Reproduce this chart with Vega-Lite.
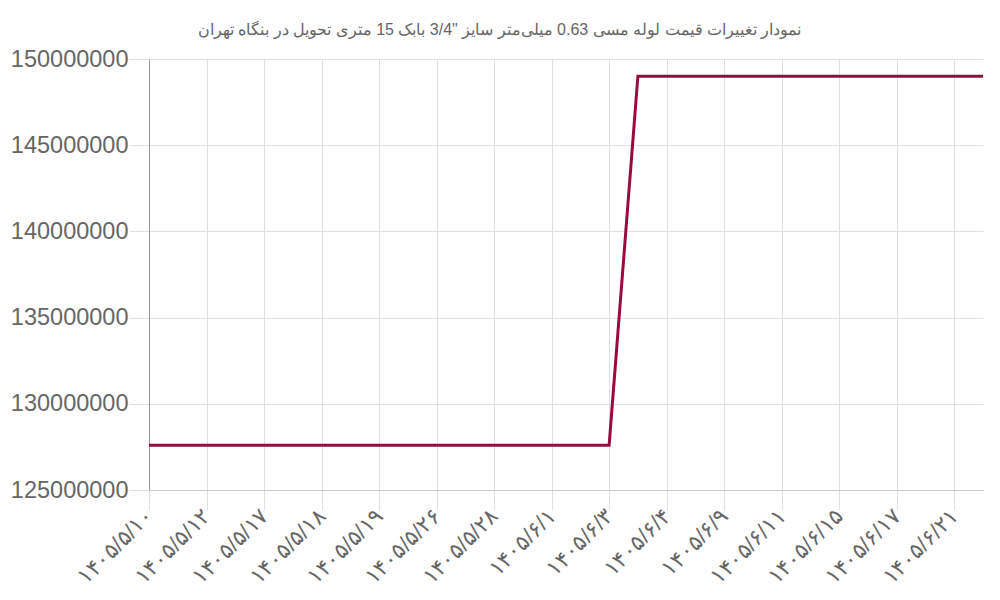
{
  "$schema": "https://vega.github.io/schema/vega-lite/v6.json",
  "description": "Copper pipe price changes, Tehran",
  "width": 834,
  "height": 431,
  "autosize": "none",
  "padding": {"left": 149, "top": 59, "right": 17, "bottom": 110},
  "config": {"font": "Liberation Sans", "view": {"stroke": null}},
  "datasets": {
    "prices": [
      {"n": 0, "date": "۱۴۰۵/۵/۱۰", "price": 127600000},
      {"n": 1, "date": "۱۴۰۵/۵/۱۱", "price": 127600000},
      {"n": 2, "date": "۱۴۰۵/۵/۱۲", "price": 127600000},
      {"n": 3, "date": "۱۴۰۵/۵/۱۴", "price": 127600000},
      {"n": 4, "date": "۱۴۰۵/۵/۱۷", "price": 127600000},
      {"n": 5, "date": "۱۴۰۵/۵/۱۷", "price": 127600000},
      {"n": 6, "date": "۱۴۰۵/۵/۱۸", "price": 127600000},
      {"n": 7, "date": "۱۴۰۵/۵/۱۸", "price": 127600000},
      {"n": 8, "date": "۱۴۰۵/۵/۱۹", "price": 127600000},
      {"n": 9, "date": "۱۴۰۵/۵/۲۲", "price": 127600000},
      {"n": 10, "date": "۱۴۰۵/۵/۲۶", "price": 127600000},
      {"n": 11, "date": "۱۴۰۵/۵/۲۷", "price": 127600000},
      {"n": 12, "date": "۱۴۰۵/۵/۲۸", "price": 127600000},
      {"n": 13, "date": "۱۴۰۵/۵/۳۱", "price": 127600000},
      {"n": 14, "date": "۱۴۰۵/۶/۱", "price": 127600000},
      {"n": 15, "date": "۱۴۰۵/۶/۲", "price": 127600000},
      {"n": 16, "date": "۱۴۰۵/۶/۳", "price": 127600000},
      {"n": 17, "date": "۱۴۰۵/۶/۳", "price": 149000000},
      {"n": 18, "date": "۱۴۰۵/۶/۴", "price": 149000000},
      {"n": 19, "date": "۱۴۰۵/۶/۸", "price": 149000000},
      {"n": 20, "date": "۱۴۰۵/۶/۹", "price": 149000000},
      {"n": 21, "date": "۱۴۰۵/۶/۱۰", "price": 149000000},
      {"n": 22, "date": "۱۴۰۵/۶/۱۱", "price": 149000000},
      {"n": 23, "date": "۱۴۰۵/۶/۱۴", "price": 149000000},
      {"n": 24, "date": "۱۴۰۵/۶/۱۵", "price": 149000000},
      {"n": 25, "date": "۱۴۰۵/۶/۱۶", "price": 149000000},
      {"n": 26, "date": "۱۴۰۵/۶/۱۷", "price": 149000000},
      {"n": 27, "date": "۱۴۰۵/۶/۲۰", "price": 149000000},
      {"n": 28, "date": "۱۴۰۵/۶/۲۱", "price": 149000000},
      {"n": 29, "date": "۱۴۰۵/۶/۲۲", "price": 149000000}
    ]
  },
  "data": {"name": "prices"},
  "title": {
    "text": "نمودار تغییرات قیمت لوله مسی 0.63 میلی\u200cمتر سایز \"3/4 بابک 15 متری تحویل در بنگاه تهران",
    "fontSize": 16,
    "fontWeight": "normal",
    "color": "#666666",
    "anchor": "middle",
    "frame": "bounds",
    "offset": 9
  },
  "mark": {"type": "line", "color": "#9b0a3f", "strokeWidth": 3},
  "encoding": {
    "x": {
      "field": "n",
      "type": "quantitative",
      "scale": {"domain": [0, 29], "nice": false, "zero": false},
      "axis": {
        "title": null,
        "values": [0, 2, 4, 6, 8, 10, 12, 14, 16, 18, 20, 22, 24, 26, 28],
        "labelExpr": "data('prices')[datum.value].date",
        "labelAngle": -45,
        "labelAlign": "right",
        "labelBaseline": "middle",
        "labelFontSize": 22,
        "labelColor": "#666666",
        "labelOverlap": false,
        "labelPadding": 2,
        "tickSize": 20,
        "tickColor": "#e0e0e0",
        "domainColor": "#cccccc",
        "gridColor": "#e0e0e0"
      }
    },
    "y": {
      "field": "price",
      "type": "quantitative",
      "scale": {"domain": [125000000, 150000000], "nice": false, "zero": false},
      "axis": {
        "title": null,
        "values": [125000000, 130000000, 135000000, 140000000, 145000000, 150000000],
        "format": "d",
        "labelFontSize": 23.5,
        "labelColor": "#666666",
        "labelPadding": 1,
        "tickSize": 20,
        "tickColor": "#e0e0e0",
        "domainColor": "#999999",
        "gridColor": "#e0e0e0"
      }
    }
  }
}
